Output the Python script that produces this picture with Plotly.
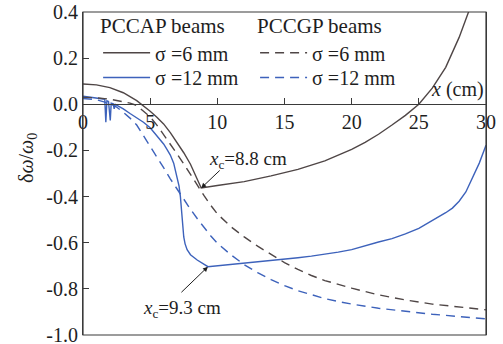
import plotly.graph_objects as go

# PCCAP beams, sigma = 6 mm (solid dark)
ap6_x = [0, 1, 2, 3, 4, 4.5, 5, 5.5, 6, 6.5, 7, 7.5, 8, 8.4, 8.8,
         10, 12, 14, 16, 18, 20, 21, 22, 23, 24, 25, 26, 27, 28, 28.7, 29.2]
ap6_y = [0.088, 0.084, 0.072, 0.05, 0.016, -0.006, -0.03, -0.056, -0.085, -0.123, -0.165, -0.21, -0.26, -0.31, -0.363,
         -0.352, -0.335, -0.31, -0.282, -0.245, -0.195, -0.165, -0.13, -0.09, -0.048, 0.0, 0.07, 0.16, 0.29, 0.40, 0.48]

# PCCAP beams, sigma = 12 mm (solid blue)
ap12_x = [0, 0.3, 0.6, 0.9, 1.2, 1.5, 1.62, 1.7, 1.78, 1.9, 1.97, 2.03, 2.1, 2.25, 2.32, 2.4, 2.5,
          3.0, 3.5, 4.0, 4.5, 5.0, 5.5, 6.0, 6.25, 6.5, 6.75, 7.0, 7.15, 7.25, 7.32, 7.4, 7.5, 7.6, 7.75,
          8.0, 8.5, 9.3, 10, 11, 12, 13, 14, 15, 16, 17, 18, 19, 20, 21, 22, 23, 24, 25, 26, 27,
          27.5, 28, 28.5, 29, 29.5, 30]
ap12_y = [0.035, 0.033, 0.032, 0.03, 0.028, 0.025, 0.022, -0.078, 0.015, 0.012, -0.065, -0.07, 0.005, 0.002, -0.02, 0.0, -0.004,
          -0.02, -0.04, -0.058, -0.078, -0.102, -0.135, -0.172, -0.195, -0.22, -0.255, -0.31, -0.355, -0.40, -0.45, -0.52, -0.575, -0.605, -0.63,
          -0.652, -0.675, -0.704, -0.7, -0.695, -0.69, -0.685, -0.679, -0.673, -0.665, -0.658, -0.65, -0.641, -0.63, -0.612, -0.597, -0.582, -0.562, -0.538, -0.505, -0.47,
          -0.45, -0.42, -0.38, -0.32, -0.255, -0.178]

# PCCGP beams, sigma = 6 mm (dashed dark)
gp6_x = [0, 1, 2, 3, 3.5, 4, 4.5, 5, 5.5, 6, 6.5, 7, 7.5, 8, 8.5, 9, 9.5, 10,
         11, 12, 13, 14, 15, 16, 17, 18, 19, 20, 22, 24, 26, 28, 30]
gp6_y = [0.03, 0.028, 0.022, 0.012, 0.005, -0.005, -0.028, -0.055, -0.09, -0.13, -0.172, -0.215, -0.258, -0.305, -0.352, -0.395, -0.437, -0.475,
         -0.53, -0.575, -0.615, -0.652, -0.686, -0.716, -0.742, -0.764, -0.781, -0.797, -0.826, -0.848, -0.866, -0.88, -0.891]

# PCCGP beams, sigma = 12 mm (dashed blue)
gp12_x = [0, 1, 2, 2.5, 3, 3.5, 4, 4.5, 5, 5.5, 6, 6.5, 7, 7.5, 8, 8.5, 9, 9.5, 10,
          11, 12, 13, 14, 15, 16, 17, 18, 19, 20, 22, 24, 26, 28, 30]
gp12_y = [0.025, 0.02, 0.003, -0.012, -0.035, -0.06, -0.09, -0.135, -0.18, -0.228, -0.275, -0.323, -0.368, -0.412, -0.455, -0.495, -0.535, -0.57, -0.602,
          -0.652, -0.695, -0.73, -0.76, -0.786, -0.808, -0.826, -0.842, -0.855, -0.866, -0.884, -0.898, -0.91, -0.92, -0.93]

x_ticks = [0, 5, 10, 15, 20, 25, 30]
y_ticks = [-1.0, -0.8, -0.6, -0.4, -0.2, 0.0, 0.2, 0.4]

DARK = "#4f4646"
BLUE = "#3d62bb"
AXC = "#3a3a3a"
TXT = "#1e1e1e"
FONT = "Liberation Serif, Times New Roman, serif"
DASH = "9px,6px"

fig = go.Figure()
fig.add_trace(go.Scatter(x=ap6_x, y=ap6_y, mode="lines", name="σ =6 mm",
                         line=dict(color=DARK, width=1.4), legend="legend"))
fig.add_trace(go.Scatter(x=ap12_x, y=ap12_y, mode="lines", name="σ =12 mm",
                         line=dict(color=BLUE, width=1.4), legend="legend3"))
fig.add_trace(go.Scatter(x=gp6_x, y=gp6_y, mode="lines", name="σ =6 mm",
                         line=dict(color=DARK, width=1.4, dash=DASH), legend="legend2"))
fig.add_trace(go.Scatter(x=gp12_x, y=gp12_y, mode="lines", name="σ =12 mm",
                         line=dict(color=BLUE, width=1.4, dash=DASH), legend="legend4"))

y0 = y_ticks[0]
y1 = y_ticks[-1]
zero_pos = (0 - y0) / (y1 - y0)

leg_common = dict(xanchor="left", yanchor="top", bgcolor="rgba(0,0,0,0)",
                  font=dict(family=FONT, size=20, color=TXT), tracegroupgap=0, itemwidth=47)
LX1, LX2 = 0.0375, 0.427
LY_TOP, LY_ROW2 = 1.0186, 0.8576

fig.update_layout(
    width=503, height=344,
    margin=dict(l=83, r=17, t=12, b=9, autoexpand=False),
    paper_bgcolor="white", plot_bgcolor="white",
    font=dict(family=FONT, size=20, color=TXT),
    xaxis=dict(range=[x_ticks[0], x_ticks[-1]], tickvals=x_ticks, ticktext=[str(v) for v in x_ticks],
               anchor="free", position=zero_pos, showline=True, linecolor=AXC, linewidth=1.2,
               ticks="inside", ticklen=6, tickcolor=AXC, tickwidth=1.2, showgrid=False, zeroline=False,
               automargin=False, ticklabeloverflow="allow",
               tickfont=dict(family=FONT, size=20, color=TXT)),
    yaxis=dict(range=[y0, y1], tickvals=y_ticks, ticktext=[f"{v:.1f}" for v in y_ticks],
               showline=True, mirror=True, linecolor=AXC, linewidth=1.2,
               ticks="inside", ticklen=6, tickcolor=AXC, tickwidth=1.2, showgrid=False, zeroline=False,
               automargin=False, ticklabeloverflow="allow",
               tickfont=dict(family=FONT, size=20, color=TXT)),
    legend=dict(title=dict(text="PCCAP beams", side="top", font=dict(family=FONT, size=21, color=TXT)),
                x=LX1, y=LY_TOP, **leg_common),
    legend2=dict(title=dict(text="PCCGP beams", side="top", font=dict(family=FONT, size=21, color=TXT)),
                 x=LX2, y=LY_TOP, **leg_common),
    legend3=dict(x=LX1, y=LY_ROW2, **leg_common),
    legend4=dict(x=LX2, y=LY_ROW2, **leg_common),
    showlegend=True,
)

# frame
fig.add_shape(type="rect", xref="paper", yref="paper", x0=0, y0=0, x1=1, y1=1,
              line=dict(color=AXC, width=1.2), layer="above")

# kink annotations
k6 = ap6_y.index(min(ap6_y[:20]))
k12 = ap12_y.index(min(ap12_y))
fig.add_annotation(x=ap6_x[k6], y=ap6_y[k6], ax=20, ay=-19, xref="x", yref="y",
                   text="", showarrow=True, arrowhead=2, arrowsize=1, arrowwidth=1, arrowcolor=TXT)
fig.add_annotation(x=ap6_x[k6] + 0.4, y=ap6_y[k6] + 0.12, xref="x", yref="y",
                   text="<i>x</i><sub>c</sub>=8.8 cm", showarrow=False, xanchor="left", yanchor="middle",
                   font=dict(family=FONT, size=19, color=TXT))
fig.add_annotation(x=ap12_x[k12], y=ap12_y[k12], ax=-28, ay=27, xref="x", yref="y",
                   text="", showarrow=True, arrowhead=2, arrowsize=1, arrowwidth=1, arrowcolor=TXT)
fig.add_annotation(x=ap12_x[k12] - 5.0, y=ap12_y[k12] - 0.183, xref="x", yref="y",
                   text="<i>x</i><sub>c</sub>=9.3 cm", showarrow=False, xanchor="left", yanchor="middle",
                   font=dict(family=FONT, size=19, color=TXT))

# axis labels
fig.add_annotation(x=1.0, y=0, xref="paper", yref="y", text="<i>x</i> (cm)", showarrow=False,
                   xanchor="right", yanchor="bottom", yshift=1, font=dict(family=FONT, size=20, color=TXT))
fig.add_annotation(x=(27 - 83) / 403, y=1 - (158 - 12) / 323, xref="paper", yref="paper",
                   xanchor="center", yanchor="middle",
                   text="δ<i>ω</i>/<i>ω</i><sub>0</sub>", showarrow=False, textangle=-90,
                   font=dict(family=FONT, size=20, color=TXT))

fig.write_html("out.html", config={"displayModeBar": False},
               post_script="document.body.style.margin='0px';")
